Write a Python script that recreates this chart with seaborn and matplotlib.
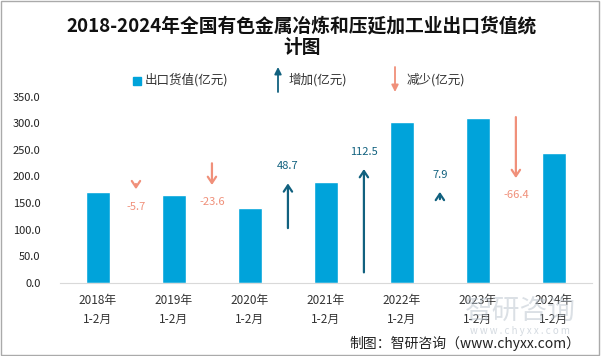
import matplotlib
matplotlib.use('Agg')
import matplotlib.pyplot as plt
import seaborn as sns
import pandas as pd
from matplotlib.patches import Rectangle

# dados
anos = ['2018年\n1-2月', '2019年\n1-2月', '2020年\n1-2月', '2021年\n1-2月',
        '2022年\n1-2月', '2023年\n1-2月', '2024年\n1-2月']
valores = [170.8, 165.1, 141.5, 190.2, 302.7, 310.6, 244.2]
variacao = [-5.7, -23.6, 48.7, 112.5, 7.9, -66.4]
# nível da ponta de cada seta (eixo secundário no original)
ponta_seta = [176, 184, 187, 214, 171, 197]
escala_seta = 1.73

cor_barra = '#00A3DA'
cor_up = '#11617F'
cor_down = '#F0907A'

sns.set_style('white')
plt.rcParams['font.family'] = ['Noto Sans CJK SC', 'DejaVu Sans']

df = pd.DataFrame({'ano': anos, 'valor': valores})

fig = plt.figure(figsize=(6.01, 3.56), dpi=100)
ax = fig.add_axes([0.0998, 0.206, 0.885, 0.522])
sns.barplot(data=df, x='ano', y='valor', color=cor_barra, width=0.32,
            saturation=1, ax=ax)

# setas de variação entre as barras
for i, (v, p) in enumerate(zip(variacao, ponta_seta)):
    x = i + 0.5
    base = p - v * escala_seta
    if v >= 0:
        cor = cor_up
        off = 12.5
    else:
        cor = cor_down
        off = -12.5
    ax.annotate('', xy=(x, p), xytext=(x, base),
                arrowprops=dict(arrowstyle='->,head_length=0.45,head_width=0.3',
                                color=cor, lw=1.6, shrinkA=0, shrinkB=0))
    ax.annotate(f'{v:.1f}', xy=(x, p), xytext=(0, off), textcoords='offset points',
                ha='center', va='center', fontsize=8, color=cor)

ax.set_ylim(0, 350)
ax.set_xlim(-0.5, 6.5)
ax.set_yticks(range(0, 351, 50))
ax.set_yticklabels([f'{t:.1f}' for t in range(0, 351, 50)])
ax.set_xlabel('')
ax.set_ylabel('')
ax.tick_params(axis='y', labelsize=8, colors='#222222', length=0, pad=14)
ax.tick_params(axis='x', labelsize=8.5, colors='#333333', length=0, pad=8)
for lab in ax.get_xticklabels():
    lab.set_linespacing(1.6)
for s in ['top', 'right', 'left']:
    ax.spines[s].set_visible(False)
ax.spines['bottom'].set_color('#D9D9D9')

# título
fig.text(0.502, 0.897, '2018-2024年全国有色金属冶炼和压延加工业出口货值统\n计图',
         ha='center', va='center', fontsize=13.5, fontweight='bold',
         linespacing=1.15, color='#111111')

# legenda manual
fig.patches.append(Rectangle((133 / 601, 1 - 85 / 356), 8 / 601, 8 / 356,
                             transform=fig.transFigure, color=cor_barra))
fig.text(145 / 601, 1 - 80 / 356, '出口货值(亿元)', fontsize=9, va='center', color='#333333')
ax.annotate('', xy=(278 / 601, 1 - 67 / 356), xytext=(278 / 601, 1 - 92 / 356),
            xycoords='figure fraction', textcoords='figure fraction',
            arrowprops=dict(arrowstyle='-|>,head_length=0.4,head_width=0.2',
                            color=cor_up, lw=1.3, shrinkA=0, shrinkB=0))
fig.text(289 / 601, 1 - 80 / 356, '增加(亿元)', fontsize=9, va='center', color='#333333')
ax.annotate('', xy=(395 / 601, 1 - 92 / 356), xytext=(395 / 601, 1 - 67 / 356),
            xycoords='figure fraction', textcoords='figure fraction',
            arrowprops=dict(arrowstyle='-|>,head_length=0.4,head_width=0.2',
                            color=cor_down, lw=1.3, shrinkA=0, shrinkB=0))
fig.text(407 / 601, 1 - 80 / 356, '减少(亿元)', fontsize=9, va='center', color='#333333')

# marca d'água e fonte
fig.text(520 / 601, 1 - 311 / 356, '智研咨询', fontsize=20, color='#B8C2CC',
         alpha=0.5, ha='center', va='center')
fig.text(520 / 601, 1 - 331 / 356, 'w w w . c h y x x . c o m', fontsize=7,
         color='#B8C2CC', alpha=0.6, ha='center', va='center')
fig.text(580 / 601, 1 - 343 / 356, '制图：智研咨询（www.chyxx.com）', fontsize=10,
         ha='right', va='center', color='#222222')

# moldura
fig.patches.append(Rectangle((0.002, 0.003), 0.995, 0.994, transform=fig.transFigure,
                             fill=False, edgecolor='#AAAAAA', lw=1))

fig.savefig('out.png', dpi=100)
